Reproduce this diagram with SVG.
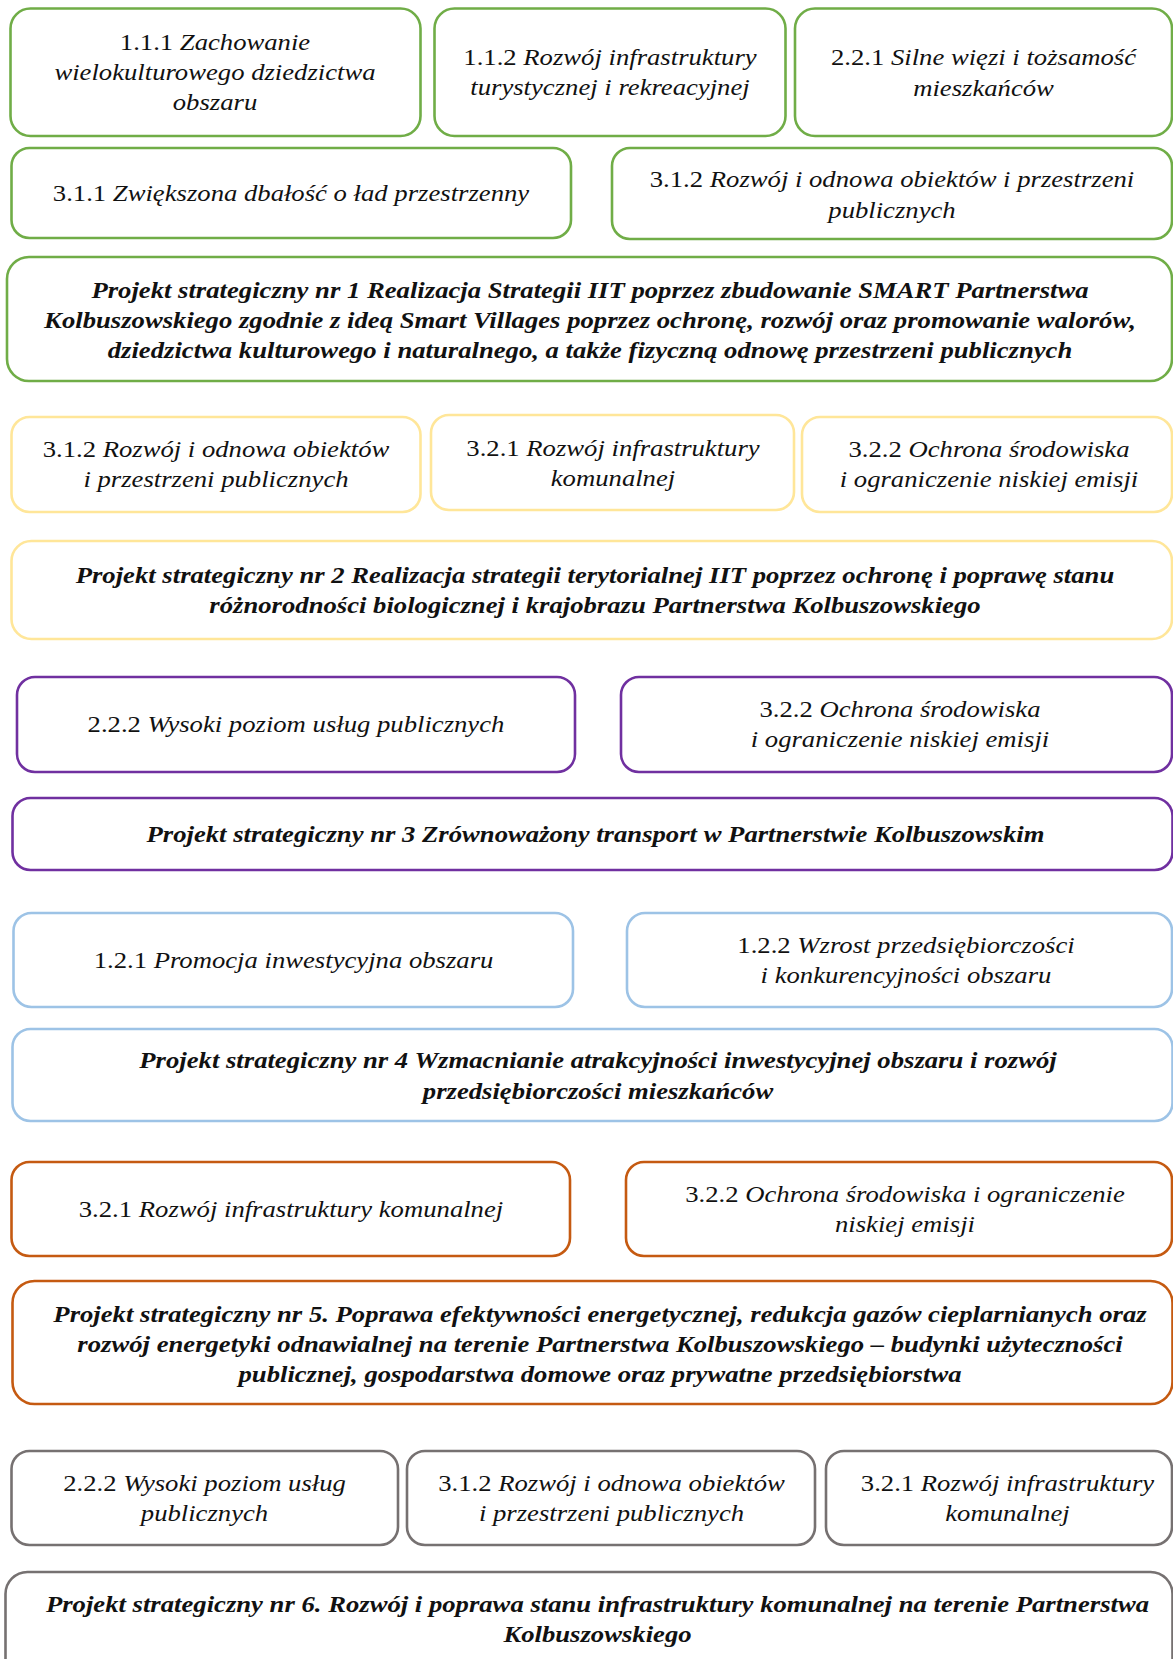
<svg xmlns="http://www.w3.org/2000/svg" width="1173" height="1659" viewBox="0 0 1173 1659">
<style>
rect{fill:#fff;stroke-width:2.6}
.g rect{stroke:#70AD47}
.y rect{stroke:#FFE699}
.p rect{stroke:#7030A0}
.b rect{stroke:#9DC3E6}
.o rect{stroke:#C55A11}
.k rect{stroke:#767171}
text{font-family:"Liberation Serif","Times New Roman",serif;font-size:24px;fill:#111;text-anchor:middle;font-style:italic}
.n{font-style:normal}
.bold text{font-weight:bold}
</style>
<rect x="0" y="0" width="1173" height="1659" style="fill:#fff;stroke:none"/>
<g class="g">
<g id="n111"><rect x="10.5" y="8.5" width="410" height="127.5" rx="20"/>
<g transform="scale(1.112 1)"><text x="193.35" y="50"><tspan class="n">1.1.1 </tspan>Zachowanie</text>
<text x="193.35" y="80">wielokulturowego dziedzictwa</text>
<text x="193.35" y="110">obszaru</text></g></g>
<g id="n112"><rect x="434.5" y="8.5" width="351" height="127.5" rx="20"/>
<g transform="scale(1.112 1)"><text x="548.56" y="65"><tspan class="n">1.1.2 </tspan>Rozwój infrastruktury</text>
<text x="548.56" y="95">turystycznej i rekreacyjnej</text></g></g>
<g id="n221"><rect x="795" y="8.5" width="377" height="127.5" rx="20"/>
<g transform="scale(1.112 1)"><text x="884.44" y="65"><tspan class="n">2.2.1 </tspan>Silne więzi i tożsamość</text>
<text x="884.44" y="96">mieszkańców</text></g></g>
<g id="n311"><rect x="11.5" y="148" width="559.5" height="90" rx="18"/>
<g transform="scale(1.112 1)"><text x="261.69" y="201"><tspan class="n">3.1.1 </tspan>Zwiększona dbałość o ład przestrzenny</text></g></g>
<g id="n312a"><rect x="612" y="148" width="560" height="91" rx="18"/>
<g transform="scale(1.112 1)"><text x="802.16" y="187"><tspan class="n">3.1.2 </tspan>Rozwój i odnowa obiektów i przestrzeni</text>
<text x="802.16" y="218">publicznych</text></g></g>
<g id="p1" class="bold"><rect x="7" y="257" width="1165" height="124" rx="22"/>
<g transform="scale(1.112 1)"><text x="530.58" y="298">Projekt strategiczny nr 1 Realizacja Strategii IIT poprzez zbudowanie SMART Partnerstwa</text>
<text x="530.58" y="328">Kolbuszowskiego zgodnie z ideą Smart Villages poprzez ochronę, rozwój oraz promowanie walorów,</text>
<text x="530.58" y="358">dziedzictwa kulturowego i naturalnego, a także fizyczną odnowę przestrzeni publicznych</text></g></g>
</g>
<g class="y">
<g id="n312b"><rect x="11.5" y="417" width="409" height="95" rx="18"/>
<g transform="scale(1.112 1)"><text x="194.24" y="457"><tspan class="n">3.1.2 </tspan>Rozwój i odnowa obiektów</text>
<text x="194.24" y="487">i przestrzeni publicznych</text></g></g>
<g id="n321a"><rect x="431" y="415" width="363" height="95" rx="18"/>
<g transform="scale(1.112 1)"><text x="551.26" y="456"><tspan class="n">3.2.1 </tspan>Rozwój infrastruktury</text>
<text x="551.26" y="486">komunalnej</text></g></g>
<g id="n322a"><rect x="802" y="417" width="370" height="95" rx="18"/>
<g transform="scale(1.112 1)"><text x="889.39" y="457"><tspan class="n">3.2.2 </tspan>Ochrona środowiska</text>
<text x="889.39" y="487">i ograniczenie niskiej emisji</text></g></g>
<g id="p2" class="bold"><rect x="11.5" y="541" width="1160.5" height="98" rx="20"/>
<g transform="scale(1.112 1)"><text x="535.07" y="583">Projekt strategiczny nr 2 Realizacja strategii terytorialnej IIT poprzez ochronę i poprawę stanu</text>
<text x="535.07" y="613">różnorodności biologicznej i krajobrazu Partnerstwa Kolbuszowskiego</text></g></g>
</g>
<g class="p">
<g id="n222a"><rect x="17" y="677" width="558" height="95" rx="18"/>
<g transform="scale(1.112 1)"><text x="266.19" y="732"><tspan class="n">2.2.2 </tspan>Wysoki poziom usług publicznych</text></g></g>
<g id="n322b"><rect x="621" y="677" width="551" height="95" rx="18"/>
<g transform="scale(1.112 1)"><text x="809.35" y="717"><tspan class="n">3.2.2 </tspan>Ochrona środowiska</text>
<text x="809.35" y="747">i ograniczenie niskiej emisji</text></g></g>
<g id="p3" class="bold"><rect x="12.5" y="798" width="1160" height="72" rx="18"/>
<g transform="scale(1.112 1)"><text x="535.52" y="842">Projekt strategiczny nr 3 Zrównoważony transport w Partnerstwie Kolbuszowskim</text></g></g>
</g>
<g class="b">
<g id="n121"><rect x="13.5" y="913" width="559.5" height="94" rx="18"/>
<g transform="scale(1.112 1)"><text x="263.94" y="968"><tspan class="n">1.2.1 </tspan>Promocja inwestycyjna obszaru</text></g></g>
<g id="n122"><rect x="627" y="913" width="545" height="94" rx="18"/>
<g transform="scale(1.112 1)"><text x="814.75" y="953"><tspan class="n">1.2.2 </tspan>Wzrost przedsiębiorczości</text>
<text x="814.75" y="983">i konkurencyjności obszaru</text></g></g>
<g id="p4" class="bold"><rect x="12.5" y="1029" width="1160" height="92" rx="18"/>
<g transform="scale(1.112 1)"><text x="537.77" y="1068">Projekt strategiczny nr 4 Wzmacnianie atrakcyjności inwestycyjnej obszaru i rozwój</text>
<text x="537.77" y="1099">przedsiębiorczości mieszkańców</text></g></g>
</g>
<g class="o">
<g id="n321b"><rect x="11.5" y="1162" width="558.5" height="94" rx="18"/>
<g transform="scale(1.112 1)"><text x="261.69" y="1217"><tspan class="n">3.2.1 </tspan>Rozwój infrastruktury komunalnej</text></g></g>
<g id="n322c"><rect x="626" y="1162" width="546" height="94" rx="18"/>
<g transform="scale(1.112 1)"><text x="813.85" y="1202"><tspan class="n">3.2.2 </tspan>Ochrona środowiska i ograniczenie</text>
<text x="813.85" y="1232">niskiej emisji</text></g></g>
<g id="p5" class="bold"><rect x="12.5" y="1281" width="1160" height="123" rx="22"/>
<g transform="scale(1.112 1)"><text x="539.57" y="1322">Projekt strategiczny nr 5. Poprawa efektywności energetycznej, redukcja gazów cieplarnianych oraz</text>
<text x="539.57" y="1352">rozwój energetyki odnawialnej na terenie Partnerstwa Kolbuszowskiego – budynki użyteczności</text>
<text x="539.57" y="1382">publicznej, gospodarstwa domowe oraz prywatne przedsiębiorstwa</text></g></g>
</g>
<g class="k">
<g id="n222b"><rect x="11.5" y="1451" width="386.5" height="94" rx="18"/>
<g transform="scale(1.112 1)"><text x="183.9" y="1491"><tspan class="n">2.2.2 </tspan>Wysoki poziom usług</text>
<text x="183.9" y="1521">publicznych</text></g></g>
<g id="n312c"><rect x="407" y="1451" width="408" height="94" rx="18"/>
<g transform="scale(1.112 1)"><text x="549.91" y="1491"><tspan class="n">3.1.2 </tspan>Rozwój i odnowa obiektów</text>
<text x="549.91" y="1521">i przestrzeni publicznych</text></g></g>
<g id="n321c"><rect x="826" y="1451" width="346" height="94" rx="18"/>
<g transform="scale(1.112 1)"><text x="906.03" y="1491"><tspan class="n">3.2.1 </tspan>Rozwój infrastruktury</text>
<text x="906.03" y="1521">komunalnej</text></g></g>
<g id="p6" class="bold"><rect x="5.5" y="1572" width="1167" height="110" rx="22"/>
<g transform="scale(1.112 1)"><text x="537.32" y="1612">Projekt strategiczny nr 6. Rozwój i poprawa stanu infrastruktury komunalnej na terenie Partnerstwa</text>
<text x="537.32" y="1642">Kolbuszowskiego</text></g></g>
</g>
<g id="connectors"/>
</svg>
